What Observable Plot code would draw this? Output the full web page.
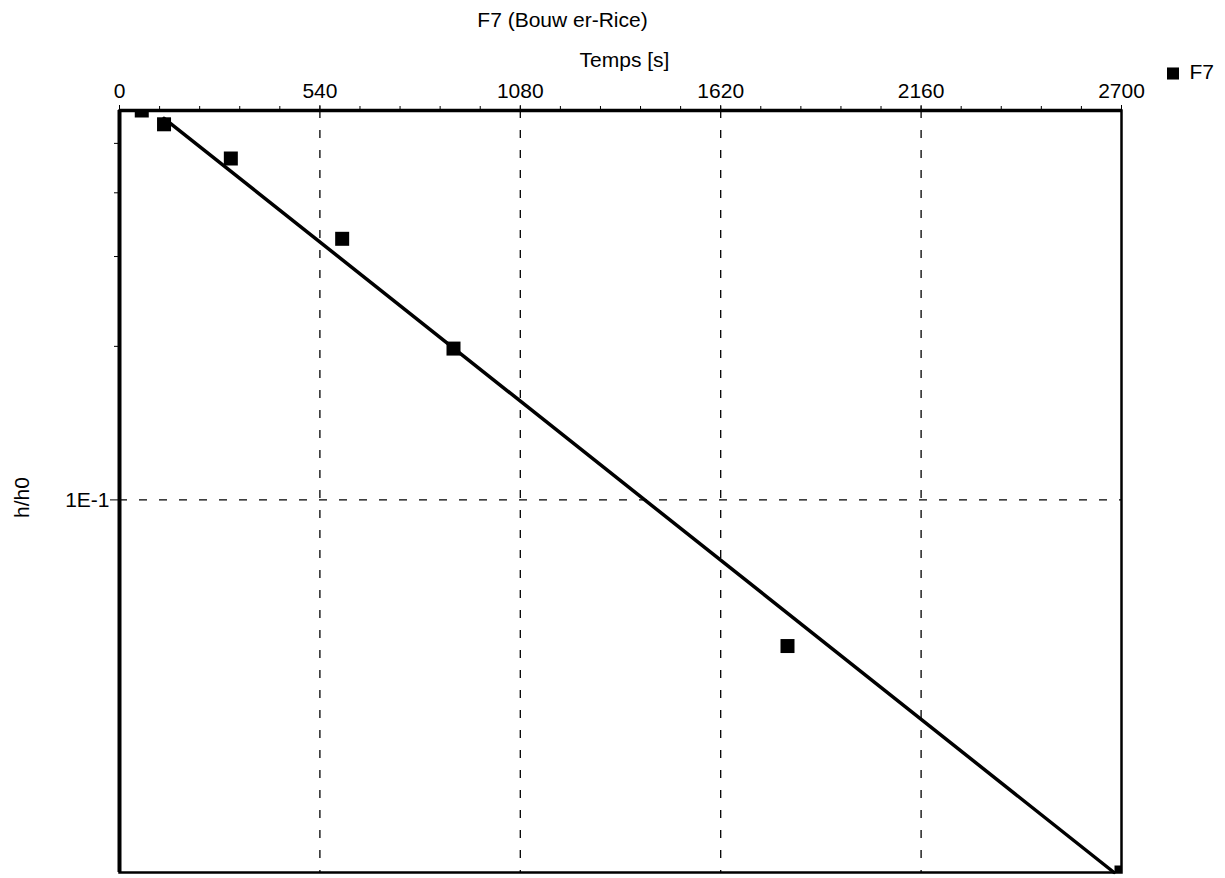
<!DOCTYPE html>
<html>
<head>
<meta charset="utf-8">
<script src="https://cdn.jsdelivr.net/npm/d3@7"></script>
<script src="https://cdn.jsdelivr.net/npm/@observablehq/plot@0.6"></script>
<style>
  html, body { margin: 0; padding: 0; background: #fff; }
</style>
</head>
<body>
<div id="chart"></div>
<script>
// Slug test F7: normalised head h/h0 against elapsed time (Bouwer-Rice)
const times = [60, 120, 300, 600, 900, 1800, 2700];
const ratios = [0.58, 0.545, 0.467, 0.325, 0.198, 0.0517, 0.0186];

// Straight-line fit on the semi-log plot
const fitTimes = [120, 2680];
const fitRatios = [0.56, 0.0186];

const xDomain = [0, 2700];
const yDomain = [0.0186, 0.58];
const xMajorTicks = [0, 540, 1080, 1620, 2160, 2700];
const xMinorTicks = d3.range(0, 2701, 108);
const xGrid = [540, 1080, 1620, 2160];
const yGrid = [0.1];
const yMinorTicks = [0.2, 0.3, 0.4, 0.5];
const yTickLabels = ["1E-1"];

const seriesName = "F7";
const title = "F7 (Bouw er-Rice)";
const xLabel = "Temps [s]";
const yLabel = "h/h0";

const points = times.map((t, i) => ({t, r: ratios[i]}));
const fit = fitTimes.map((t, i) => ({t, r: fitRatios[i]}));

const fs = 21;

const chart = Plot.plot({
  width: 1225,
  height: 878,
  marginLeft: 119,
  marginRight: 104,
  marginTop: 110,
  marginBottom: 6,
  style: {fontFamily: "'Liberation Sans', Arial, sans-serif", fontSize: fs + "px", background: "#fff", color: "#000"},
  x: {domain: xDomain},
  y: {type: "log", domain: yDomain},
  marks: [
    Plot.ruleX(xGrid, {stroke: "#000", strokeWidth: 1.3, strokeDasharray: "8,12"}),
    Plot.ruleY(yGrid, {stroke: "#000", strokeWidth: 1.3, strokeDasharray: "8,12"}),
    Plot.line(fit, {x: "t", y: "r", stroke: "#000", strokeWidth: 3.5}),
    Plot.dot(points, {x: "t", y: "r", symbol: "square", r: 7.9, fill: "#000", stroke: "none", clip: true}),
    Plot.frame({stroke: "#000", strokeWidth: 2.5}),
    Plot.ruleX([xDomain[0]], {stroke: "#000", strokeWidth: 4}),
    Plot.ruleY([yDomain[1]], {stroke: "#000", strokeWidth: 3.5}),
    Plot.axisX(xMinorTicks, {anchor: "top", tickSize: 5, tickFormat: () => "", label: null}),
    Plot.axisX(xMajorTicks, {anchor: "top", tickSize: 6, tickPadding: 7, tickFormat: d => String(d), fontSize: fs, label: null}),
    Plot.axisY(yMinorTicks, {anchor: "left", tickSize: 5, tickFormat: () => "", label: null}),
    Plot.axisY(yGrid, {anchor: "left", tickSize: 9, tickPadding: 1, tickFormat: d => yTickLabels[yGrid.indexOf(d)], fontSize: fs, label: null}),
    Plot.text([title], {text: d => d, frameAnchor: "top", lineAnchor: "middle", dx: -58, dy: -90, fontSize: fs}),
    Plot.text([xLabel], {text: d => d, frameAnchor: "top", lineAnchor: "middle", dx: 4, dy: -50, fontSize: fs}),
    Plot.text([yLabel], {text: d => d, frameAnchor: "left", textAnchor: "middle", lineAnchor: "middle", dx: -97, dy: 6, rotate: -90, fontSize: fs}),
    Plot.dot([seriesName], {frameAnchor: "top-right", dx: 51.5, dy: -37, symbol: "square", r: 6.8, fill: "#000", stroke: "none"}),
    Plot.text([seriesName], {text: d => d, frameAnchor: "top-right", textAnchor: "start", lineAnchor: "middle", dx: 68, dy: -38, fontSize: fs})
  ]
});

document.getElementById("chart").append(chart);
</script>
</body>
</html>
